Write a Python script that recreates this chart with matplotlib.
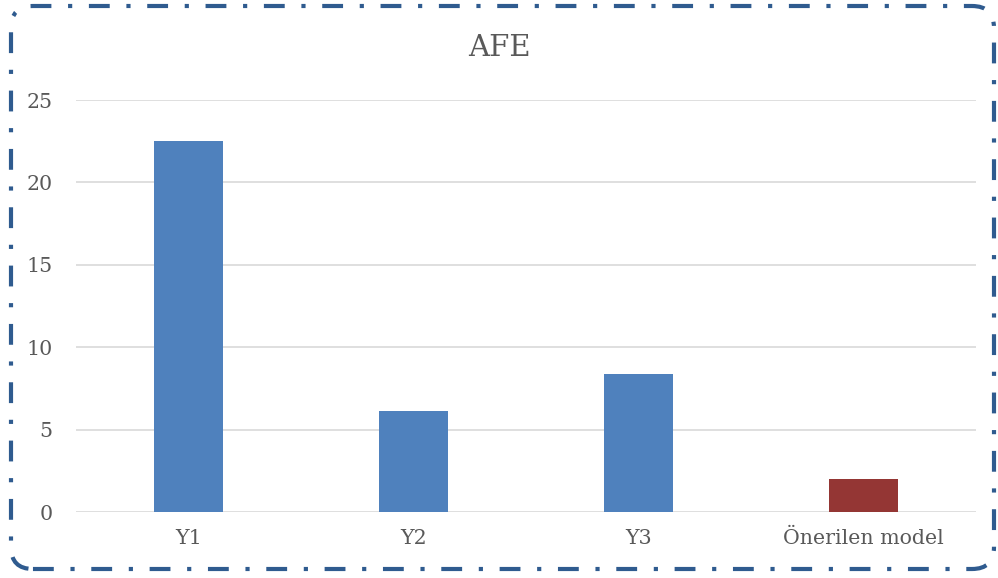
import matplotlib
matplotlib.use("Agg")
import matplotlib.pyplot as plt
from matplotlib.patches import FancyBboxPatch

categories = ["Y1", "Y2", "Y3", "Önerilen model"]
values = [22.5, 6.1, 8.4, 2.0]
colors = ["#4F81BD", "#4F81BD", "#4F81BD", "#943634"]
yticks = [0, 5, 10, 15, 20, 25]
title = "AFE"

plt.rcParams['font.family'] = ['DejaVu Serif']
W, H = 998, 578
fig = plt.figure(figsize=(W/100, H/100), dpi=100)
ax = fig.add_axes([76/W, 1-512/H, 900/W, 412/H])

x = list(range(len(categories)))
ax.bar(x, values, width=0.31, color=colors, zorder=3)
ax.set_xlim(-0.5, len(categories)-0.5)
ax.set_ylim(0, 25)
ax.set_yticks(yticks)
ax.set_xticks(x)
ax.set_xticklabels(categories)
ax.grid(axis='y', color='#D9D9D9', linewidth=1.2, zorder=0)
for s in ax.spines.values():
    s.set_visible(False)
ax.tick_params(axis='both', length=0, labelsize=14.8, colors='#595959')
ax.tick_params(axis='y', pad=17)
ax.tick_params(axis='x', pad=12)
fig.text(0.5, 1-48/H, title, ha='center', va='center', fontsize=21, color='#595959')

border = FancyBboxPatch((11/W, 9/H), 983/W, 563/H,
                        boxstyle="round,pad=0,rounding_size=0.022",
                        transform=fig.transFigure, fill=False,
                        edgecolor='#2F5B8F', linewidth=3,
                        linestyle=(0, (5, 4, 1, 4)), mutation_aspect=W/H)
fig.patches.append(border)
fig.savefig("out.png", dpi=100)
